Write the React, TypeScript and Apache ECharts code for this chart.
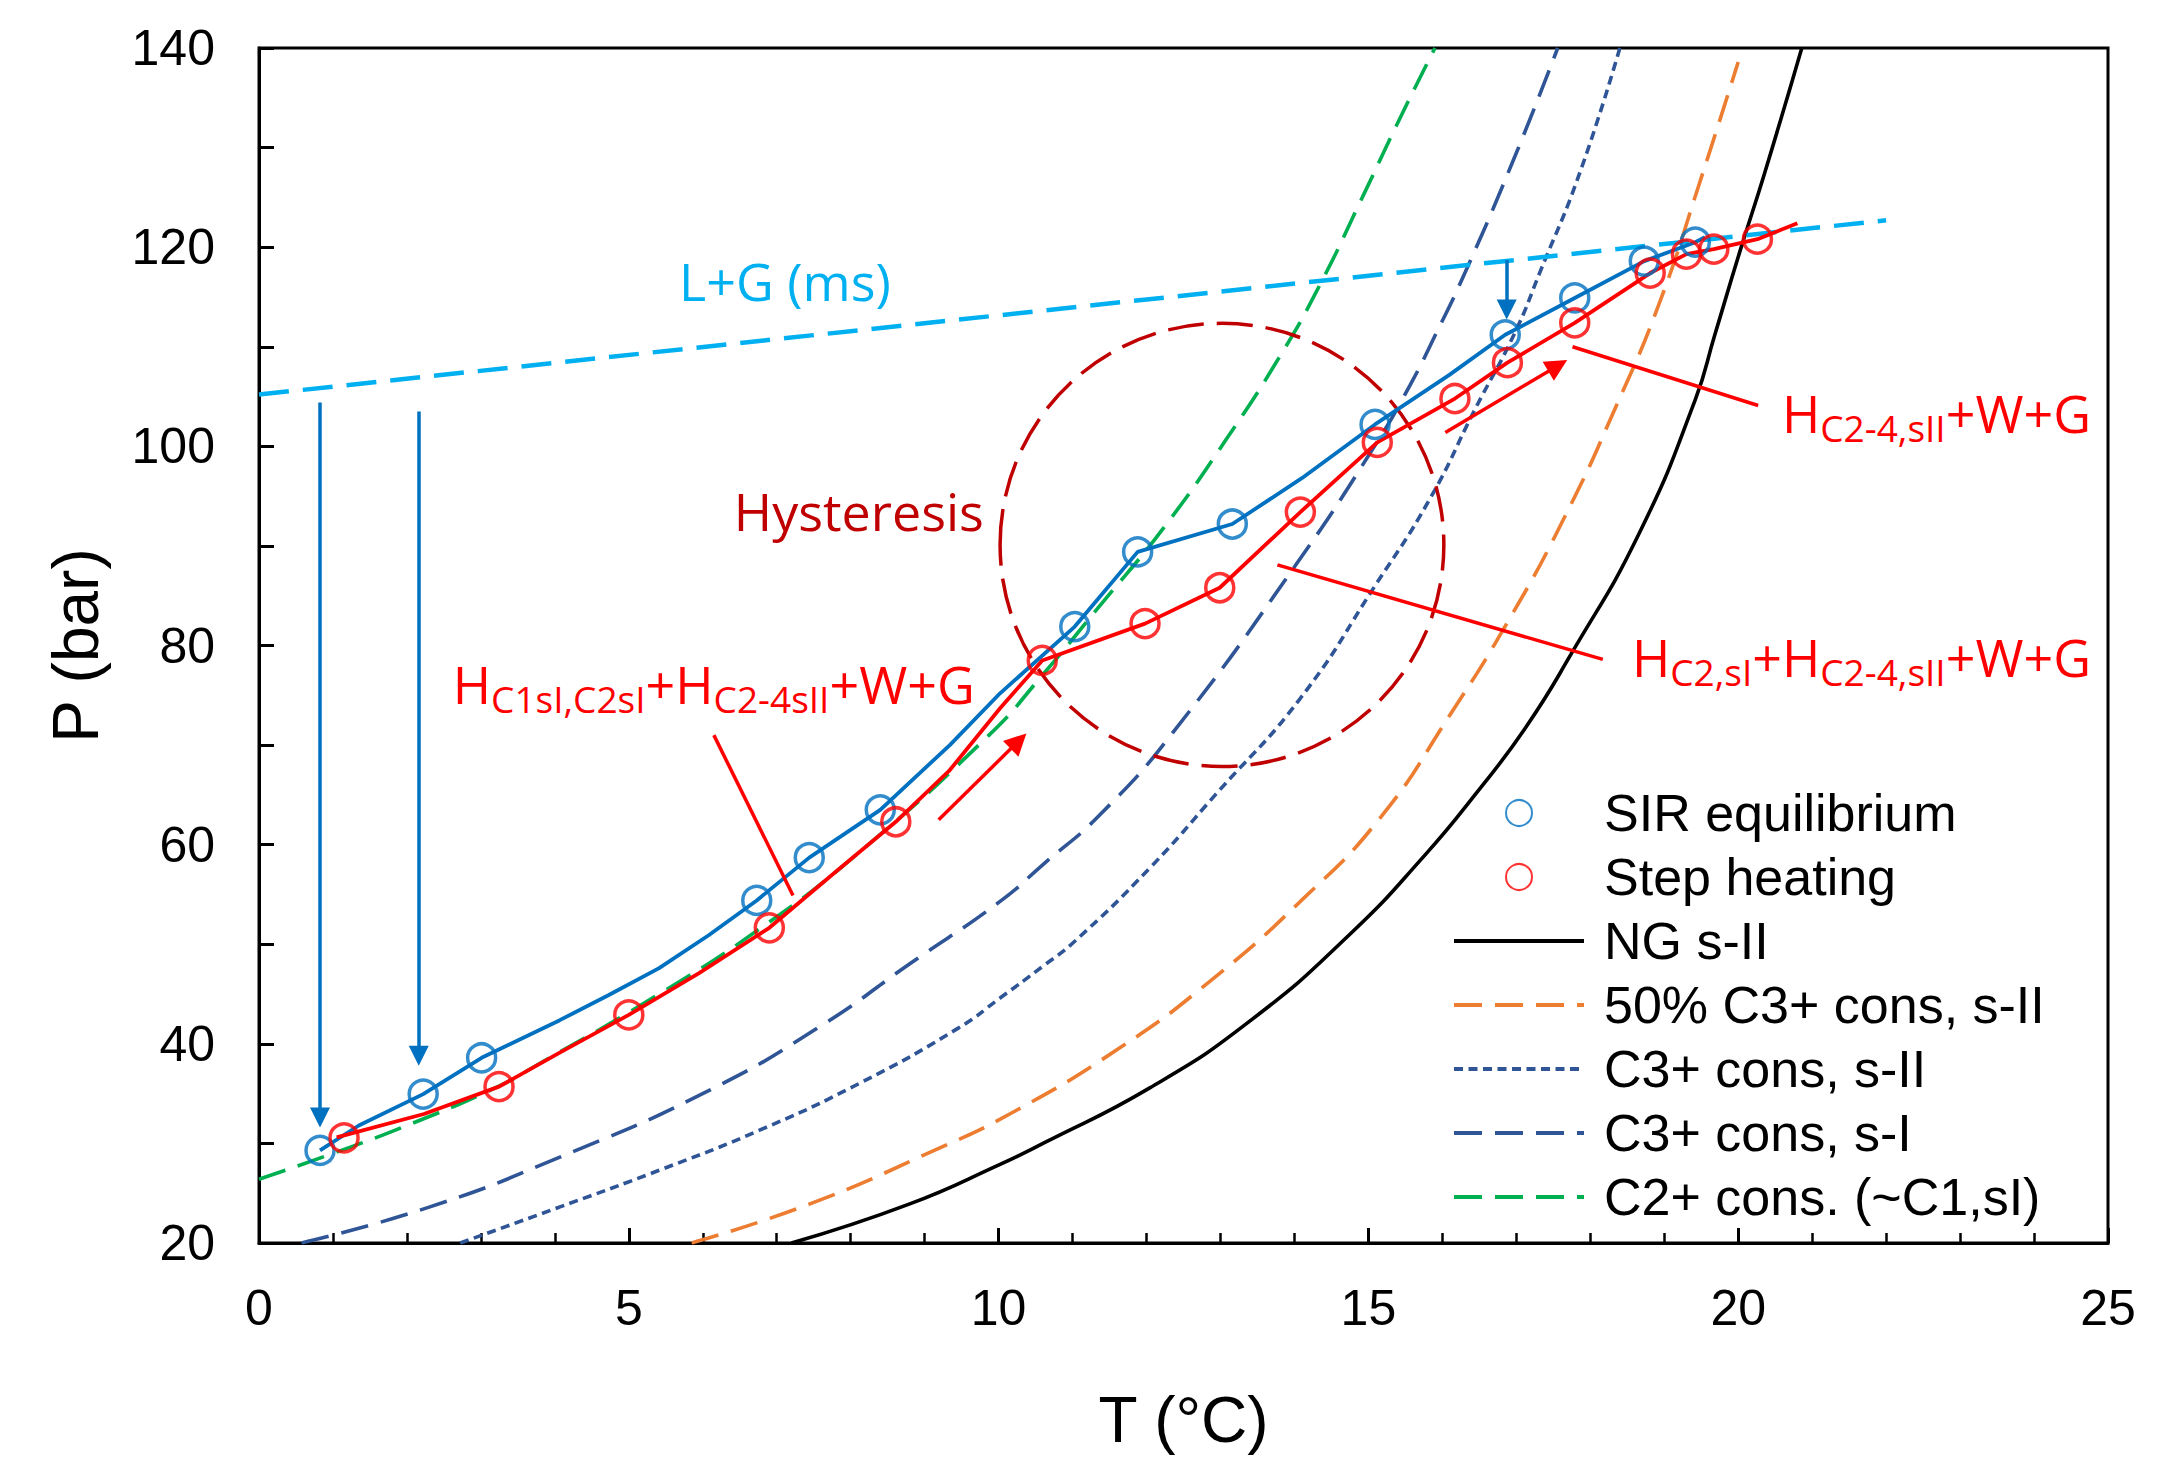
import React, { useEffect, useRef } from "react";
import * as echarts from "echarts";

// ---------- data ----------
const SIR_MARKERS: [number, number][] = [
  [0.825, 29.3], [2.22, 34.95], [3.01, 38.6], [6.73, 54.4], [7.44, 58.7], [8.4, 63.5],
  [11.03, 81.9], [11.88, 89.4], [13.16, 92.2], [15.09, 102.2], [16.85, 111.2],
  [17.79, 114.9], [18.73, 118.6], [19.42, 120.5],
];
const SIR_LINE: [number, number][] = [
  [0.825, 29.3], [1.35, 31.8], [2.22, 34.95], [3.01, 38.6], [4.06, 42.35], [4.73, 44.9],
  [5.41, 47.6], [6.08, 50.9], [6.73, 54.4], [7.44, 58.7], [8.4, 63.5], [9.34, 70.0],
  [10.02, 75.2], [11.03, 81.9], [11.88, 89.4], [13.16, 92.2], [14.1, 96.8], [15.09, 102.2],
  [16.1, 107.2], [16.85, 111.2], [17.79, 114.9], [18.73, 118.6], [19.42, 120.5], [19.55, 121.0],
];
const STEP_MARKERS: [number, number][] = [
  [1.15, 30.55], [3.245, 35.7], [5.0, 42.9], [6.9, 51.65], [8.61, 62.3], [10.59, 78.5],
  [11.98, 82.2], [12.99, 85.8], [14.08, 93.4], [15.12, 100.4], [16.17, 104.8],
  [16.88, 108.4], [17.79, 112.4], [18.81, 117.4], [19.3, 119.3], [19.67, 119.8], [20.26, 120.8],
];
const STEP_LINE: [number, number][] = [
  [1.05, 30.6], [2.23, 32.95], [3.245, 35.7], [4.06, 39.1], [5.0, 42.9], [5.95, 47.1],
  [6.9, 51.65], [7.77, 57.1], [8.61, 62.3], [9.33, 67.4], [10.02, 73.7], [10.59, 78.5],
  [11.98, 82.2], [12.99, 85.8], [14.08, 93.4], [15.12, 100.4], [16.17, 104.8],
  [16.88, 108.4], [17.79, 112.4], [18.81, 117.4], [19.3, 119.3], [19.67, 119.8],
  [20.26, 120.8], [20.8, 122.4],
];
const NG_SII: [number, number][] = [
  [7.2, 20], [8.79, 23.9], [10.02, 27.9], [10.6, 30.0], [12.05, 35.6], [13.4, 42.3],
  [14.75, 51.0], [15.77, 59.0], [16.44, 65.0], [17.12, 71.7], [17.73, 79.0], [18.67, 91.4],
  [19.42, 104.7], [19.68, 111.1], [20.02, 119.5], [20.36, 127.5], [20.86, 140],
];
const C3_HALF_SII: [number, number][] = [
  [5.85, 20], [7.44, 23.9], [9.13, 29.3], [10.15, 32.95], [11.64, 39.6], [12.86, 46.3],
  [14.08, 54.3], [15.16, 62.7], [16.1, 73.0], [16.91, 82.7], [17.66, 93.0], [18.33, 103.7],
  [18.94, 114.5], [19.48, 126.5], [20.0, 138.6],
];
const C3_SII: [number, number][] = [
  [2.72, 20], [4.06, 23.6], [5.41, 27.3], [6.76, 31.3], [8.11, 36.0], [9.46, 41.6],
  [10.02, 44.6], [10.6, 47.8], [11.03, 50.3], [12.05, 57.7], [12.93, 65.0], [14.08, 74.7],
  [15.09, 86.0], [15.83, 94.7], [16.44, 103.7], [16.98, 111.4], [17.32, 117.5],
  [17.86, 127.5], [18.4, 140],
];
const C3_SI: [number, number][] = [
  [0.575, 20], [2.3, 23.6], [4.06, 28.6], [6.08, 35.3], [7.64, 42.0], [8.79, 48.0],
  [10.02, 54.3], [10.6, 58.0], [11.37, 63.0], [12.35, 71.2], [14.01, 88.0], [15.09, 100.1],
  [15.56, 106.1], [15.9, 111.1], [16.31, 117.5], [16.98, 129.1], [17.56, 140],
];
const C2_CONS: [number, number][] = [
  [0, 26.4], [1, 29.0], [2, 31.8], [3.2, 35.6], [3.79, 38.0], [5.41, 45.0], [6.76, 51.5],
  [8.11, 59.2], [9.87, 71.0], [10.59, 77.0], [11.37, 84.0], [12.25, 92.0], [13.06, 100.5],
  [13.8, 109.0], [14.35, 116.3], [14.95, 125.5], [15.43, 133.0], [15.9, 140],
];
const LG_MS: [number, number][] = [[0, 105.2], [22, 122.7]];

const BLUE_ARROWS: [number, number][][] = [
  [[0.825, 104.4], [0.825, 32.6]],
  [[2.16, 103.5], [2.16, 38.8]],
  [[16.87, 118.7], [16.87, 113.75]],
];
const RED_ARROWS: [number, number][][] = [
  [[9.19, 62.5], [10.27, 70.4]],
  [[16.04, 101.4], [17.56, 108.1]],
];
const LEADERS: [number, number][][] = [
  [[6.15, 71.0], [7.22, 54.9]],
  [[13.77, 88.1], [18.17, 78.6]],
  [[17.76, 110.0], [20.27, 104.1]],
];
// hysteresis ellipse: centre T, centre P, half-width (°C), half-height (bar)
const HYSTERESIS: number[][] = [[13.02, 90.1, 3.0, 22.25]];

const X_TICKS = { min: 0, max: 25, step: 5 };
const Y_TICKS = { min: 20, max: 140, step: 10, labelStep: 20 };

const ANN_TEXT = [
  "L+G (ms)",
  "Hysteresis",
  "H{s|C1sI,C2sI}+H{s|C2-4sII}+W+G",
  "H{s|C2,sI}+H{s|C2-4,sII}+W+G",
  "H{s|C2-4,sII}+W+G",
];
const ANN_ANCHOR: [number, number][] = [
  [5.68, 116.66], [6.42, 93.6], [2.62, 76.2], [24.77, 78.9], [24.77, 103.4],
];
const ANN_ALIGN = ["left", "left", "left", "right", "right"];
const ANN_COLOR = ["#00B0F0", "#C00000", "#FF0000", "#FF0000", "#FF0000"];

const LEGEND_NAMES = [
  "SIR equilibrium",
  "Step heating",
  "NG s-II",
  "50% C3+ cons, s-II",
  "C3+ cons, s-II",
  "C3+ cons, s-I",
  "C2+ cons. (~C1,sI)",
];

const AX_FONT = "Liberation Sans";
const ANN_FONT = "Open Sans";

function modelCurve(name: string, data: [number, number][], color: string, type: any, z = 2) {
  return {
    name,
    type: "line",
    data,
    symbol: "none",
    showSymbol: false,
    smooth: 0.5,
    lineStyle: { color, width: 3.6, type },
    itemStyle: { color },
    z,
    silent: true,
  };
}

export default function App() {
  const ref = useRef<HTMLDivElement>(null);
  useEffect(() => {
    const chart = echarts.init(ref.current!, null, { renderer: "svg", width: 2172, height: 1457 });
    const option: any = {
      animation: false,
      backgroundColor: "#ffffff",
      grid: {
        left: 259, top: 48, width: 1849, height: 1199,
        show: true, borderColor: "#000", borderWidth: 3, backgroundColor: "transparent",
      },
      xAxis: {
        type: "value", min: X_TICKS.min, max: X_TICKS.max, interval: X_TICKS.step,
        axisLine: { lineStyle: { color: "#000", width: 3 } },
        axisTick: { inside: true, length: 15, lineStyle: { color: "#000", width: 3 } },
        minorTick: { show: true, splitNumber: 5, length: 10, lineStyle: { color: "#000", width: 2.5 } },
        splitLine: { show: false },
        axisLabel: { fontSize: 50, fontFamily: AX_FONT, color: "#000", margin: 40 },
        name: "T (°C)", nameLocation: "middle", nameGap: 145,
        nameTextStyle: { fontSize: 64, fontFamily: AX_FONT, color: "#000" },
      },
      yAxis: {
        type: "value", min: Y_TICKS.min, max: Y_TICKS.max, interval: Y_TICKS.step,
        axisLine: { lineStyle: { color: "#000", width: 3 } },
        axisTick: { inside: true, length: 15, lineStyle: { color: "#000", width: 3 } },
        splitLine: { show: false },
        axisLabel: {
          fontSize: 50, fontFamily: AX_FONT, color: "#000", margin: 44,
          formatter: (v: number) => (v % Y_TICKS.labelStep === 0 ? String(v) : ""),
        },
        name: "P (bar)", nameLocation: "middle", nameGap: 151,
        nameTextStyle: { fontSize: 64, fontFamily: AX_FONT, color: "#000" },
      },
      legend: {
        orient: "vertical", left: 1452, top: 787, padding: 0,
        itemWidth: 130, itemHeight: 26, itemGap: 12, selectedMode: false,
        textStyle: { fontSize: 52, fontFamily: AX_FONT, color: "#000", lineHeight: 52, padding: [0, 0, 0, 15] },
        data: LEGEND_NAMES.map((n, i) =>
          i < 2 ? { name: n } : { name: n, itemStyle: { opacity: 0 }, lineStyle: { width: 4 } }
        ),
      },
      series: [
        modelCurve(LEGEND_NAMES[2], NG_SII, "#000000", "solid"),
        modelCurve(LEGEND_NAMES[3], C3_HALF_SII, "#ED7D31", [28, 13]),
        modelCurve(LEGEND_NAMES[4], C3_SII, "#2F5597", [9, 5.5]),
        modelCurve(LEGEND_NAMES[5], C3_SI, "#2F5597", [28, 13]),
        modelCurve(LEGEND_NAMES[6], C2_CONS, "#00B050", [28, 13]),
        {
          name: "L+G (ms)", type: "line", data: LG_MS, symbol: "none", silent: true, z: 2,
          lineStyle: { color: "#00B0F0", width: 4.5, type: [30, 14] },
        },
        {
          type: "custom", silent: true, z: 3,
          renderItem: (_p: any, api: any) => {
            const c = api.coord([api.value(0), api.value(1)]);
            const s = api.size([api.value(2), api.value(3)]);
            return {
              type: "ellipse",
              shape: { cx: c[0], cy: c[1], rx: s[0], ry: s[1] },
              style: { fill: "none", stroke: "#C00000", lineWidth: 3.5, lineDash: [36, 13] },
            };
          },
          data: HYSTERESIS,
        },
        {
          name: "SIR line", type: "line", data: SIR_LINE, symbol: "none", silent: true, z: 4,
          lineStyle: { color: "#0070C0", width: 3.8 },
        },
        {
          name: "Step line", type: "line", data: STEP_LINE, symbol: "none", silent: true, z: 4,
          lineStyle: { color: "#FF0000", width: 3.8 },
        },
        {
          name: LEGEND_NAMES[0], type: "scatter", data: SIR_MARKERS, symbol: "circle", symbolSize: 28, z: 6,
          itemStyle: { color: "rgba(0,0,0,0)", borderColor: "#0070C0", borderWidth: 3.5 },
        },
        {
          name: LEGEND_NAMES[1], type: "scatter", data: STEP_MARKERS, symbol: "circle", symbolSize: 28, z: 6,
          itemStyle: { color: "rgba(0,0,0,0)", borderColor: "#FF0000", borderWidth: 3.5 },
        },
        {
          type: "lines", coordinateSystem: "cartesian2d", silent: true, z: 7,
          symbol: ["none", "triangle"], symbolSize: 20,
          lineStyle: { color: "#0070C0", width: 3.5, opacity: 1, curveness: 0 },
          data: BLUE_ARROWS.map((c) => ({ coords: c })),
        },
        {
          type: "lines", coordinateSystem: "cartesian2d", silent: true, z: 7,
          symbol: ["none", "triangle"], symbolSize: 22,
          lineStyle: { color: "#FF0000", width: 3.5, opacity: 1, curveness: 0 },
          data: RED_ARROWS.map((c) => ({ coords: c })),
        },
        {
          type: "lines", coordinateSystem: "cartesian2d", silent: true, z: 7,
          symbol: ["none", "none"],
          lineStyle: { color: "#FF0000", width: 3.5, opacity: 1, curveness: 0 },
          data: LEADERS.map((c) => ({ coords: c })),
        },
        {
          type: "custom", silent: true, z: 8,
          renderItem: (_p: any, api: any) => {
            const i = api.value(2);
            const c = api.coord([api.value(0), api.value(1)]);
            return {
              type: "text",
              x: c[0], y: c[1],
              style: {
                text: ANN_TEXT[i],
                fill: ANN_COLOR[i],
                fontSize: 52,
                fontFamily: ANN_FONT,
                align: ANN_ALIGN[i],
                verticalAlign: "middle",
                rich: {
                  s: { fontSize: 37, fontFamily: ANN_FONT, fill: ANN_COLOR[i], padding: [30, 0, 0, 0], verticalAlign: "middle" },
                },
              },
            };
          },
          data: ANN_ANCHOR.map((a, i) => [a[0], a[1], i]),
        },
      ],
    };
    chart.setOption(option);
    return () => chart.dispose();
  }, []);
  return (
    <div
      ref={ref}
      style={{ position: "absolute", left: 0, top: 0, width: 2172, height: 1457, background: "#fff" }}
    />
  );
}
